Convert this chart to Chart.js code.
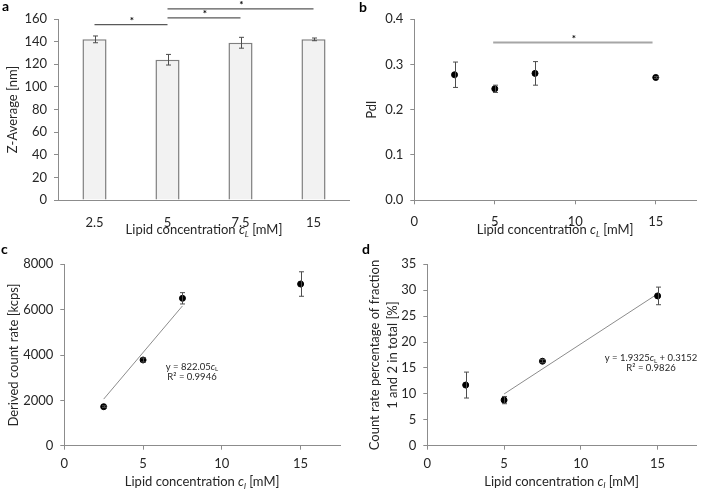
<!DOCTYPE html>
<html>
<head>
<meta charset="utf-8">
<script src="https://cdn.jsdelivr.net/npm/chart.js@4.4.1/dist/chart.umd.min.js"></script>
<style>
    body { margin: 0; background: #fff; width: 701px; height: 490px; position: relative; overflow: hidden; }
    canvas { position: absolute; }
    .letter { position: absolute; font: bold 14px Lato, sans-serif; color: #000; }
</style>
</head>
<body>
<canvas id="chartA" width="350" height="240" style="left:0;top:0"></canvas>
<canvas id="chartB" width="351" height="240" style="left:350px;top:0"></canvas>
<canvas id="chartC" width="350" height="250" style="left:0;top:240px"></canvas>
<canvas id="chartD" width="351" height="250" style="left:350px;top:240px"></canvas>
<div class="letter" style="left:2px;top:-3px">a</div>
<div class="letter" style="left:359px;top:-2px">b</div>
<div class="letter" style="left:1px;top:240px">c</div>
<div class="letter" style="left:362px;top:240px">d</div>

<script>
// Valores
const categoriesA = ['2.5', '5', '7.5', '15'];
const zAverage = [142, 124, 139, 142];
const zAverageErr = [3, 4.7, 4.8, 1.2];
// [de, até, nível] em índices de categoria
const significanceA = [[0, 1, 155], [1, 2, 161], [1, 3, 169]];

const concentrations = [2.5, 5, 7.5, 15];
const xTicks = [0, 5, 10, 15];
const pdi = [0.277, 0.246, 0.280, 0.271];
const pdiErr = [0.028, 0.008, 0.026, 0.002];
const significanceB = [[4.9, 14.8, 0.348]];

const countRate = [1720, 3780, 6500, 7130];
const countRateErr = [40, 90, 250, 540];
const trendCx = [2.5, 7.5];
const trendCy = [2055, 6165];

const fraction = [11.7, 8.8, 16.3, 28.9];
const fractionErr = [2.5, 0.7, 0.3, 1.7];
const trendDx = [5, 15];
const trendDy = [9.98, 29.3];

const FONT = 'Lato, sans-serif';
const AXIS = '#8c8c8c';
const TEXT = '#262626';

Chart.defaults.font.family = FONT;
Chart.defaults.color = TEXT;

// Desenha barras de erro a partir das escalas
const errorBars = {
    id: 'errorBars',
    afterDatasetsDraw(chart, args, opts) {
        if (!opts.values) return;
        const { ctx } = chart;
        const meta = chart.getDatasetMeta(0);
        const y = chart.scales.y;
        ctx.save();
        ctx.strokeStyle = '#4d4d4d';
        ctx.lineWidth = 1;
        opts.values.forEach((v, i) => {
            const px = Math.round(meta.data[i].x) + 0.5;
            const top = y.getPixelForValue(v + opts.errors[i]);
            const bot = y.getPixelForValue(v - opts.errors[i]);
            ctx.beginPath();
            ctx.moveTo(px, top); ctx.lineTo(px, bot);
            ctx.moveTo(px - 2.5, top); ctx.lineTo(px + 2.5, top);
            ctx.moveTo(px - 2.5, bot); ctx.lineTo(px + 2.5, bot);
            ctx.stroke();
        });
        ctx.restore();
    }
};

// Linhas de significância com asterisco
const significance = {
    id: 'significance',
    afterDraw(chart, args, opts) {
        if (!opts.lines) return;
        const { ctx } = chart;
        const x = chart.scales.x;
        const y = chart.scales.y;
        ctx.save();
        ctx.strokeStyle = opts.color;
        ctx.lineWidth = opts.width;
        ctx.fillStyle = '#000';
        ctx.font = 'bold 10px ' + FONT;
        ctx.textAlign = 'center';
        opts.lines.forEach(([from, to, level]) => {
            const x1 = x.getPixelForValue(from);
            const x2 = x.getPixelForValue(to);
            const py = y.getPixelForValue(level);
            ctx.beginPath();
            ctx.moveTo(x1, py); ctx.lineTo(x2, py);
            ctx.stroke();
            ctx.fillText('*', (x1 + x2) / 2 + 1, py - 1);
        });
        ctx.restore();
    }
};

// Título do eixo x com c itálico e subscrito
const richText = {
    id: 'richText',
    afterDraw(chart, args, opts) {
        const { ctx } = chart;
        (opts.items || []).forEach(item => {
            const cx = item.cx !== undefined ? item.cx : (chart.chartArea.left + chart.chartArea.right) / 2;
            const cy = item.cy !== undefined ? item.cy : chart.chartArea.bottom + item.dy;
            const size = item.size;
            let width = 0;
            item.parts.forEach(p => {
                ctx.font = fontFor(p, size);
                width += ctx.measureText(p.t).width;
            });
            let px = cx - width / 2;
            ctx.save();
            ctx.fillStyle = TEXT;
            ctx.textBaseline = 'middle';
            item.parts.forEach(p => {
                ctx.font = fontFor(p, size);
                ctx.fillText(p.t, px, cy + (p.sub ? size * 0.3 : 0));
                px += ctx.measureText(p.t).width;
            });
            ctx.restore();
        });
    }
};

function fontFor(p, size) {
    const s = p.sub ? size * 0.65 : size;
    return (p.it ? 'italic ' : '') + s + 'px ' + FONT;
}

function lipidTitle(sub, dy) {
    return {
        dy: dy, size: 13,
        parts: [{ t: 'Lipid concentration ' }, { t: 'c', it: true }, { t: sub, it: true, sub: true }, { t: ' [mM]' }]
    };
}

function yAxis(min, max, step, width, title, titlePad, fmt) {
    return {
        min: min, max: max,
        ticks: { stepSize: step, padding: 7, font: { size: 13 }, color: TEXT, callback: fmt || (v => v) },
        grid: { drawOnChartArea: false, drawTicks: true, tickLength: 4, color: AXIS },
        border: { color: AXIS, width: 1 },
        title: { display: true, text: title, font: { size: 13 }, color: TEXT, padding: { top: titlePad, bottom: 0 } },
        afterFit: s => { s.width = width; }
    };
}

function xLinear(height, tickPad) {
    return {
        type: 'linear', min: 0, max: 17.5,
        ticks: { padding: tickPad, font: { size: 13 }, color: TEXT, maxRotation: 0 },
        grid: { drawOnChartArea: false, drawTicks: true, tickLength: 4, color: AXIS },
        border: { color: AXIS, width: 1 },
        afterBuildTicks: s => { s.ticks = xTicks.map(v => ({ value: v })); },
        afterFit: s => { s.height = height; }
    };
}

function points(xs, ys) {
    return xs.map((x, i) => ({ x: x, y: ys[i] }));
}

const common = {
    responsive: false,
    animation: false,
    events: [],
    plugins: { legend: { display: false }, tooltip: { enabled: false } }
};

// Painel a: barras
new Chart(document.getElementById('chartA'), {
    type: 'bar',
    data: {
        labels: categoriesA,
        datasets: [{
            data: zAverage,
            backgroundColor: '#f2f2f2',
            borderColor: '#7f7f7f',
            borderWidth: 1.5,
            categoryPercentage: 1,
            barPercentage: 0.33
        }]
    },
    options: {
        ...common,
        layout: { padding: { top: 19, right: 0, left: 0, bottom: 0 } },
        scales: {
            x: {
                ticks: { padding: 15, font: { size: 13 }, color: TEXT },
                grid: { display: true, drawOnChartArea: false, drawTicks: false, color: AXIS },
                border: { color: AXIS, width: 1 },
                afterFit: s => { s.height = 40; }
            },
            y: yAxis(0, 160, 20, 58, 'Z-Average [nm]', 5)
        },
        plugins: {
            ...common.plugins,
            errorBars: { values: zAverage, errors: zAverageErr },
            significance: { lines: significanceA, color: '#595959', width: 1.2 },
            richText: { items: [lipidTitle('L', 30)] }
        }
    },
    plugins: [errorBars, significance, richText]
});

// Painel b: PdI
new Chart(document.getElementById('chartB'), {
    type: 'scatter',
    data: {
        datasets: [{
            data: points(concentrations, pdi),
            backgroundColor: '#000', borderColor: '#000', pointRadius: 3
        }]
    },
    options: {
        ...common,
        layout: { padding: { top: 19, right: 1, left: 0, bottom: 0 } },
        scales: {
            x: xLinear(39.7, 10),
            y: yAxis(0, 0.4, 0.1, 64.3, 'PdI', 14, v => v.toFixed(1))
        },
        plugins: {
            ...common.plugins,
            errorBars: { values: pdi, errors: pdiErr },
            significance: { lines: significanceB, color: '#a6a6a6', width: 2 },
            richText: { items: [lipidTitle('L', 30)] }
        }
    },
    plugins: [errorBars, significance, richText]
});

// Painel c: count rate
new Chart(document.getElementById('chartC'), {
    type: 'scatter',
    data: {
        datasets: [{
            data: points(concentrations, countRate),
            backgroundColor: '#000', borderColor: '#000', pointRadius: 3
        }, {
            type: 'line',
            data: points(trendCx, trendCy),
            borderColor: '#8c8c8c', borderWidth: 1, pointRadius: 0, fill: false
        }]
    },
    options: {
        ...common,
        layout: { padding: { top: 24.3, right: 10, left: 0, bottom: 0 } },
        scales: {
            x: xLinear(44.3, 6),
            y: yAxis(0, 8000, 2000, 64.3, 'Derived count rate [kcps]', 6)
        },
        plugins: {
            ...common.plugins,
            errorBars: { values: countRate, errors: countRateErr },
            richText: {
                items: [
                    lipidTitle('l', 36.5),
                    { cx: 192, cy: 126.5, size: 9.5, parts: [{ t: 'y = 822.05' }, { t: 'c', it: true }, { t: 'L', sub: true }] },
                    { cx: 192, cy: 137, size: 9.5, parts: [{ t: 'R² = 0.9946' }] }
                ]
            }
        }
    },
    plugins: [errorBars, richText]
});

// Painel d: percentagem
new Chart(document.getElementById('chartD'), {
    type: 'scatter',
    data: {
        datasets: [{
            data: points(concentrations, fraction),
            backgroundColor: '#000', borderColor: '#000', pointRadius: 3
        }, {
            type: 'line',
            data: points(trendDx, trendDy),
            borderColor: '#8c8c8c', borderWidth: 1, pointRadius: 0, fill: false
        }]
    },
    options: {
        ...common,
        layout: { padding: { top: 24.3, right: 1, left: 0, bottom: 0 } },
        scales: {
            x: xLinear(44.3, 6),
            y: {
                ...yAxis(0, 35, 5, 77.3, '', 16),
                title: {
                    display: true,
                    text: ['Count rate percentage of fraction', '1 and 2 in total [%]'],
                    font: { size: 13, lineHeight: 1.36 }, color: TEXT,
                    padding: { top: 16, bottom: 0 }
                }
            }
        },
        plugins: {
            ...common.plugins,
            errorBars: { values: fraction, errors: fractionErr },
            richText: {
                items: [
                    lipidTitle('l', 36),
                    { cx: 301, cy: 118, size: 9.5, parts: [{ t: 'y = 1.9325' }, { t: 'c', it: true }, { t: 'L', sub: true }, { t: ' + 0.3152' }] },
                    { cx: 301, cy: 128, size: 9.5, parts: [{ t: 'R² = 0.9826' }] }
                ]
            }
        }
    },
    plugins: [errorBars, richText]
});
</script>
</body>
</html>
